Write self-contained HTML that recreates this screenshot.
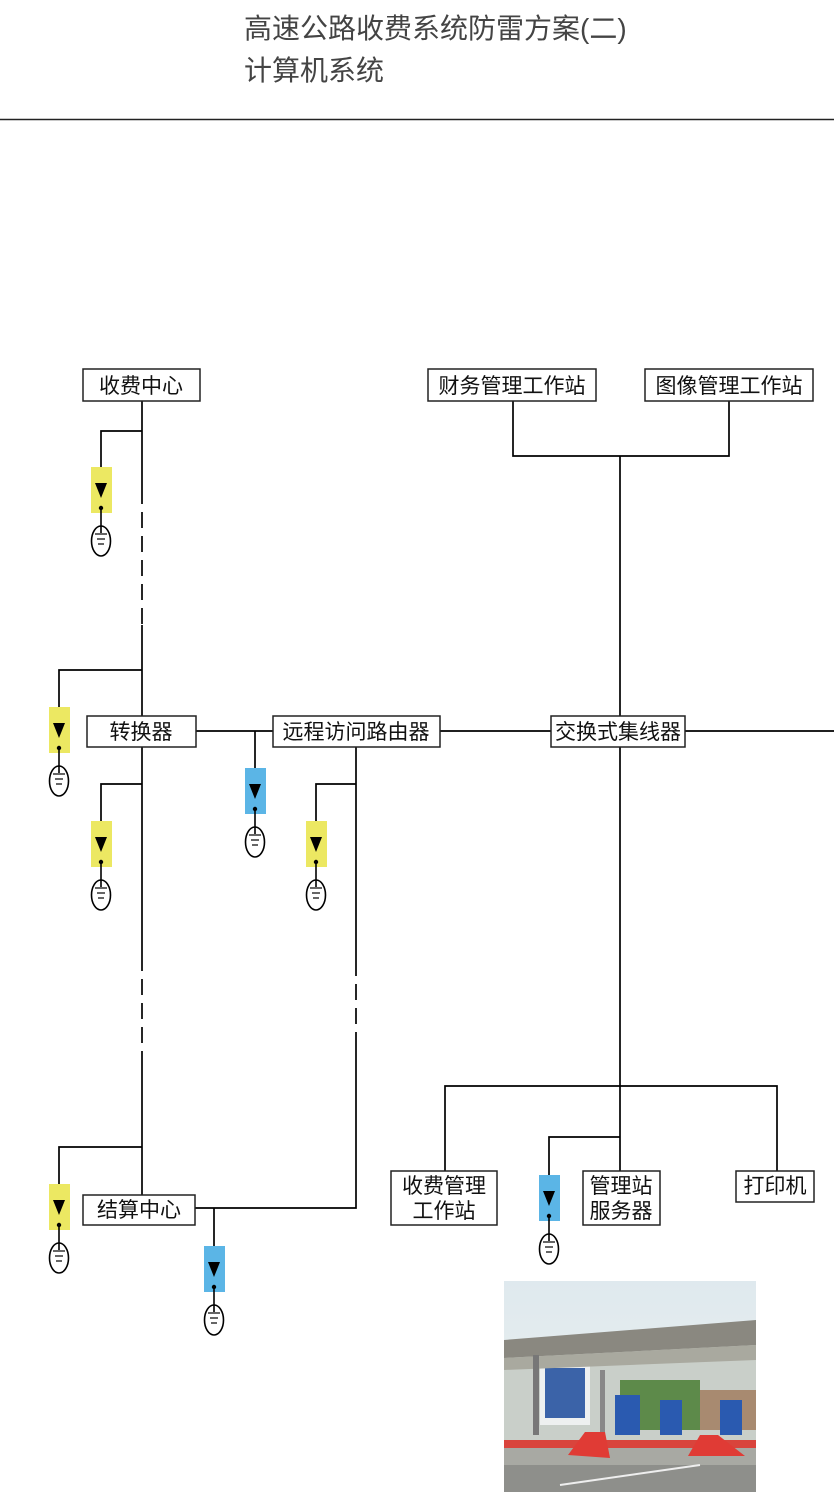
<!DOCTYPE html>
<html><head><meta charset="utf-8"><style>
html,body{margin:0;padding:0;background:#fff;}
body{width:834px;height:1500px;overflow:hidden;position:relative;font-family:"Liberation Sans","Noto Sans CJK SC",sans-serif;}
</style></head><body>
<svg width="834" height="1500" viewBox="0 0 834 1500" xmlns="http://www.w3.org/2000/svg" style="position:absolute;left:0;top:0">
<defs>
<g id="gy"><rect x="-10" y="0" width="21" height="46" fill="#ece862"/><polygon points="-6,16 6,16 0,31" fill="#000"/><circle cx="0" cy="41" r="2.2" fill="#000"/><line x1="0" y1="41" x2="0" y2="66" stroke="#000" stroke-width="1.6"/><ellipse cx="0" cy="74" rx="9.5" ry="15" fill="none" stroke="#000" stroke-width="1.6"/><line x1="-6" y1="67" x2="6" y2="67" stroke="#000" stroke-width="1.2"/><line x1="-4" y1="72" x2="4" y2="72" stroke="#000" stroke-width="1.2"/><line x1="-3" y1="77" x2="3" y2="77" stroke="#000" stroke-width="1.2"/></g>
<g id="gb"><rect x="-10" y="0" width="21" height="46" fill="#5bb5e6"/><polygon points="-6,16 6,16 0,31" fill="#000"/><circle cx="0" cy="41" r="2.2" fill="#000"/><line x1="0" y1="41" x2="0" y2="66" stroke="#000" stroke-width="1.6"/><ellipse cx="0" cy="74" rx="9.5" ry="15" fill="none" stroke="#000" stroke-width="1.6"/><line x1="-6" y1="67" x2="6" y2="67" stroke="#000" stroke-width="1.2"/><line x1="-4" y1="72" x2="4" y2="72" stroke="#000" stroke-width="1.2"/><line x1="-3" y1="77" x2="3" y2="77" stroke="#000" stroke-width="1.2"/></g>
<linearGradient id="sky" x1="0" y1="0" x2="0" y2="1"><stop offset="0" stop-color="#dfe9ee"/><stop offset="1" stop-color="#eef2f0"/></linearGradient>
</defs>
<g font-family="Liberation Sans, Noto Sans CJK SC, sans-serif" fill="#444" font-size="28">
<text x="244" y="38">高速公路收费系统防雷方案(二)</text>
<text x="244" y="80">计算机系统</text>
</g>
<line x1="0" y1="119.5" x2="834" y2="119.5" stroke="#222" stroke-width="1.5"/>

<g stroke="#000" stroke-width="1.7" fill="none">
<line x1="142" y1="401" x2="142" y2="488"/>
<line x1="142" y1="488" x2="142" y2="625" stroke-dasharray="16,8"/>
<line x1="142" y1="625" x2="142" y2="716"/>
<polyline points="142,431 101,431 101,498"/>
<polyline points="142,670 59,670 59,738"/>
<line x1="142" y1="747" x2="142" y2="955"/>
<line x1="142" y1="955" x2="142" y2="1055" stroke-dasharray="16,8"/>
<line x1="142" y1="1055" x2="142" y2="1195"/>
<polyline points="142,784 101,784 101,852"/>
<polyline points="142,1147 59,1147 59,1215"/>
<line x1="196" y1="731" x2="273" y2="731"/>
<line x1="255" y1="731" x2="255" y2="800"/>
<line x1="356" y1="747" x2="356" y2="960"/>
<line x1="356" y1="960" x2="356" y2="1040" stroke-dasharray="16,8"/>
<polyline points="356,1040 356,1208 195,1208"/>
<polyline points="356,784 316,784 316,852"/>
<line x1="214" y1="1208" x2="214" y2="1276"/>
<line x1="440" y1="731" x2="551" y2="731"/>
<line x1="685" y1="731" x2="834" y2="731"/>
<polyline points="513,401 513,456 729,456 729,401"/>
<line x1="620" y1="456" x2="620" y2="716"/>
<line x1="620" y1="747" x2="620" y2="1171"/>
<polyline points="445,1171 445,1086 777,1086 777,1171"/>
<polyline points="620,1137 549,1137 549,1205"/>
</g>
<use href="#gy" x="101" y="467"/>
<use href="#gy" x="59" y="707"/>
<use href="#gy" x="101" y="821"/>
<use href="#gb" x="255" y="768"/>
<use href="#gy" x="316" y="821"/>
<use href="#gy" x="59" y="1184"/>
<use href="#gb" x="214" y="1246"/>
<use href="#gb" x="549" y="1175"/>

<g fill="#fff" stroke="#222" stroke-width="1.5">
<rect x="83" y="369" width="117" height="32"/>
<rect x="428" y="369" width="168" height="32"/>
<rect x="645" y="369" width="168" height="32"/>
<rect x="87" y="716" width="109" height="31"/>
<rect x="273" y="716" width="167" height="31"/>
<rect x="551" y="716" width="134" height="31"/>
<rect x="391" y="1171" width="106" height="54"/>
<rect x="583" y="1171" width="77" height="54"/>
<rect x="736" y="1171" width="78" height="31"/>
<rect x="83" y="1195" width="112" height="30"/>
</g>
<g font-family="Liberation Sans, Noto Sans CJK SC, sans-serif" fill="#111" font-size="21" text-anchor="middle">
<text x="141" y="393">收费中心</text>
<text x="512" y="393">财务管理工作站</text>
<text x="729" y="393">图像管理工作站</text>
<text x="141" y="739">转换器</text>
<text x="356" y="739">远程访问路由器</text>
<text x="618" y="739">交换式集线器</text>
<text x="444" y="1193">收费管理</text>
<text x="444" y="1218">工作站</text>
<text x="621" y="1193">管理站</text>
<text x="621" y="1218">服务器</text>
<text x="775" y="1193">打印机</text>
<text x="139" y="1217">结算中心</text>
</g>

<g>
<rect x="504" y="1281" width="252" height="211" fill="url(#sky)"/>
<rect x="504" y="1345" width="252" height="100" fill="#c9cfc9"/>
<rect x="540" y="1365" width="50" height="60" fill="#eef0f0"/>
<rect x="545" y="1368" width="40" height="50" fill="#3b63a8"/>
<rect x="620" y="1380" width="80" height="50" fill="#5d8a4a"/>
<rect x="700" y="1390" width="56" height="40" fill="#a88a70"/>
<polygon points="504,1340 756,1320 756,1345 504,1358" fill="#8a8880"/>
<polygon points="504,1358 756,1345 756,1360 504,1370" fill="#a9a99f"/>
<rect x="533" y="1355" width="6" height="80" fill="#777"/>
<rect x="600" y="1370" width="5" height="70" fill="#888"/>
<rect x="615" y="1395" width="25" height="40" fill="#2a5ab0"/>
<rect x="660" y="1400" width="22" height="35" fill="#2a5ab0"/>
<rect x="720" y="1400" width="22" height="35" fill="#2a5ab0"/>
<rect x="504" y="1440" width="252" height="52" fill="#a8a9a3"/>
<rect x="504" y="1465" width="252" height="27" fill="#8e8f8b"/>
<rect x="504" y="1440" width="252" height="8" fill="#d9443c"/>
<polygon points="568,1455 585,1432 605,1432 610,1458" fill="#e03b35"/>
<polygon points="688,1456 700,1435 718,1435 745,1456" fill="#e03b35"/>
<line x1="560" y1="1485" x2="700" y2="1465" stroke="#eee" stroke-width="2"/>
</g>
</svg>
</body></html>
